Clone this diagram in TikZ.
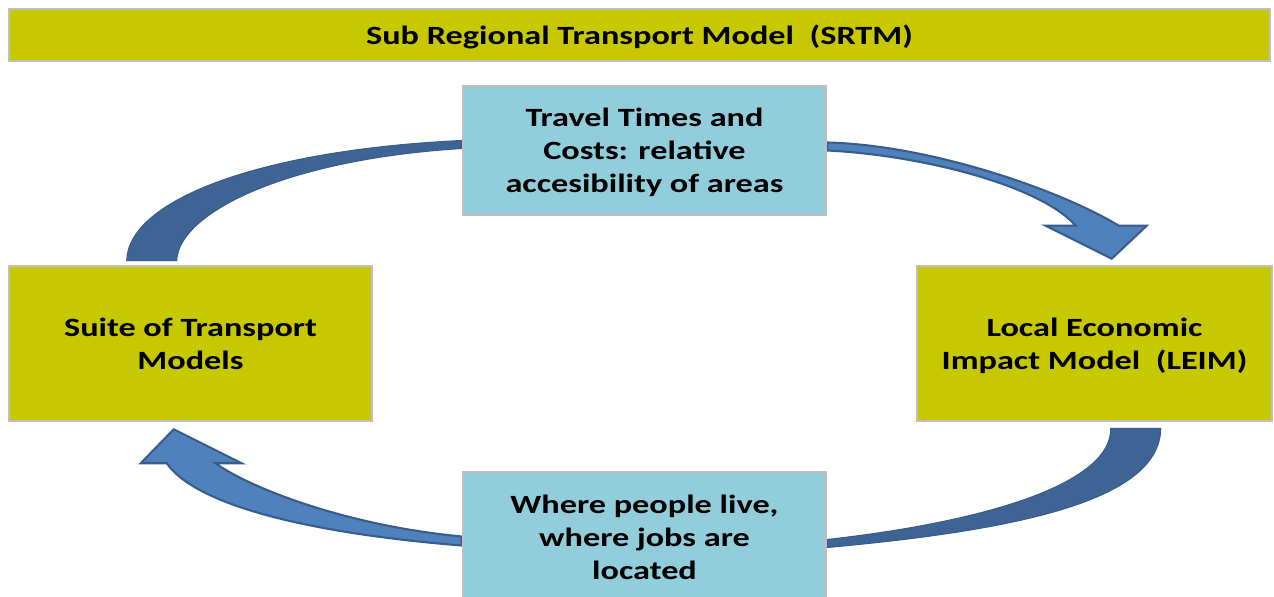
\documentclass[tikz,border=0pt]{standalone}
\usepackage{fontspec}
\setmainfont{Carlito}[FakeStretch=1.3]
\usetikzlibrary{calc,backgrounds}
\definecolor{jauneBoite}{RGB}{200,200,0}
\definecolor{bleuBoite}{RGB}{146,205,220}
\definecolor{bordGris}{RGB}{191,191,191}
\definecolor{flecheClair}{RGB}{79,129,189}
\definecolor{flecheFonce}{RGB}{62,100,150}
\definecolor{flecheTrait}{RGB}{56,93,138}

\begin{document}
\begin{tikzpicture}[x=0.02cm,y=-0.02cm]
    % Styles (MODIFIABLES)
    \tikzstyle{boite}=[draw=bordGris,line width=1.5pt,align=center,inner sep=0pt,text depth=0pt,font=\bfseries\fontsize{15}{18.7}\selectfont]
    \tikzstyle{modele}=[boite,fill=jauneBoite,minimum width=7.26cm,minimum height=3.1cm]
    \tikzstyle{info}=[boite,fill=bleuBoite,minimum width=7.26cm]
    \tikzstyle{flechedos}=[fill=flecheFonce,draw=flecheTrait,line width=0.6pt]
    \tikzstyle{flechetete}=[fill=flecheClair,draw=flecheTrait,line width=1.2pt]
    \useasboundingbox (0,0) rectangle (1274,597);
    % Noeuds
    \node[boite,fill=jauneBoite,minimum width=25.22cm,minimum height=1.04cm] (SRTM) at (639.5,35) {Sub Regional Transport Model\ \ (SRTM)};
    \node[info,minimum height=2.58cm] (Temps) at (644.5,150.5) {Travel Times and\\Costs: relative\\accesibility of areas};
    \node[modele] (Suite) at (190.5,343.5) {Suite of Transport\\Models};
    \node[modele,minimum width=7.1cm] (LEIM) at (1094.5,343.5) {Local Economic\\Impact Model\ \ (LEIM)};
    \node[info,minimum height=2.62cm] (Lieux) at (644.5,537.5) {Where people live,\\where jobs are\\located};
    % Pointes
    \coordinate (pointeB) at ($(LEIM.north west)+(196,-6)$);
    \coordinate (pointeD) at ($(Suite.south west)+(166,7)$);
    % Fleches
    \begin{scope}[on background layer]
    \filldraw[flechedos] ($(Suite.north west)+(119,-4)$) .. controls (128,200) and (260,150) .. ($(Temps.west)+(0,-10)$)
        -- ($(Temps.west)+(0,-2)$) .. controls (280,160) and (178,215) .. ($(Suite.north west)+(169,-4)$) -- cycle;
    \filldraw[flechetete] ($(Temps.east)+(0,-8)$) .. controls (930,145) and (1060,190) .. ($(pointeB)+(7,-33)$)
        -- ($(pointeB)+(35,-33)$) -- (pointeB) -- ($(pointeB)+(-66,-33)$) -- ($(pointeB)+(-36,-33)$)
        .. controls (1040,185) and (920,155) .. ($(Temps.east)+(0,0)$) -- cycle;
    \filldraw[flechedos] ($(LEIM.south west)+(245,6)$) .. controls (1160,500) and (1020,530) .. ($(Lieux.east)+(0,10)$)
        -- ($(Lieux.east)+(0,2)$) .. controls (1000,520) and (1112,480) .. ($(LEIM.south west)+(195,6)$) -- cycle;
    \filldraw[flechetete] ($(Lieux.west)+(0,8)$) .. controls (330,535) and (200,510) .. ($(pointeD)+(-7,34)$)
        -- ($(pointeD)+(-33,34)$) -- (pointeD) -- ($(pointeD)+(68,34)$) -- ($(pointeD)+(42,34)$)
        .. controls (245,485) and (340,525) .. ($(Lieux.west)+(0,-1)$) -- cycle;
    \end{scope}
\end{tikzpicture}
\end{document}
